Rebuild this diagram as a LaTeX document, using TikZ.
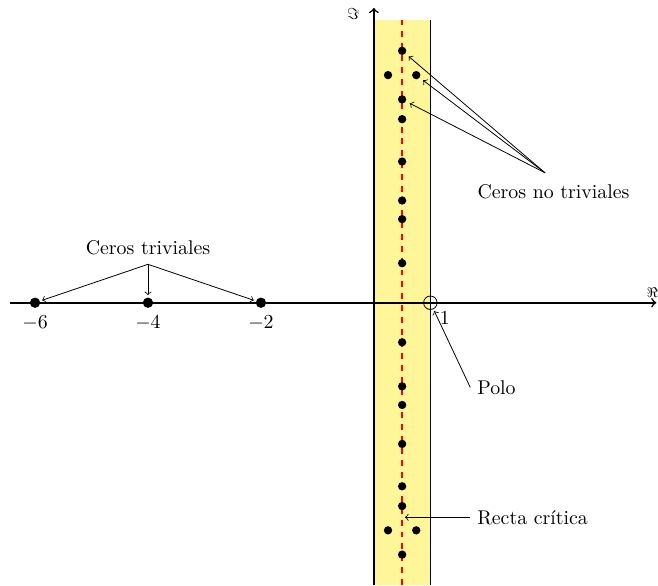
\documentclass[tikz,border=0pt]{standalone}
\usepackage{tikz}
\usetikzlibrary{arrows,calc,positioning}
\definecolor{franja}{RGB}{255,245,153}

\begin{document}
\begin{tikzpicture}[baseline,scale = 1]

    \tikzset{
      cero/.style={
        circle,
        fill,
        inner sep=0pt,
        minimum size=4.2pt,
      },
      cerotriv/.style={
        cero,
        minimum size=5.2pt,
      },
      polo/.style={
        circle,
        draw,
        inner sep=0pt,
        minimum size=6.8pt,
      },
      flecha/.style={->,thin},
    }
    \useasboundingbox (-6.62,-5.01) rectangle (5.03,5.36);
    % franja critica
    \fill[color={franja}] (0,-5) rectangle (1,5);
    \draw[color={black}] (1,-5)--(1,5);
    \draw[color={red},thick,dashed] (0.5,-5)--(0.5,5);
    % ejes
    \draw[thick,->] (-6.45,0)--(5,0) node[above,inner sep=2pt,xshift=-2pt] (re) {\scriptsize$\Re$};
    \draw[thick,->] (0,-5)--(0,5.22) node[left,inner sep=7pt,yshift=-3pt] (im) {\footnotesize$\Im$};
	% ceros triviales
	\node[cerotriv] (t6) at (-6,0) {};
	\node[cerotriv] (t4) at (-4,0) {};
	\node[cerotriv] (t2) at (-2,0) {};
	\node[below] at (t6.south) {$-6$};
	\node[below] at (t4.south) {$-4$};
	\node[below] at (t2.south) {$-2$};
	% polo
	\node[polo,label={[inner sep=2pt]below right:$1$}] (p1) at (1,0) {};
	% ceros no triviales
	\node[cero] (za1) at (0.5,0.70) {};
	\node[cero] (za2) at (0.5,1.48) {};
	\node[cero] (za3) at (0.5,1.81) {};
	\node[cero] (za4) at (0.5,2.50) {};
	\node[cero] (za5) at (0.5,3.25) {};
	\node[cero] (za6) at (0.5,3.60) {};
	\node[cero] (zai) at (0.25,4.03) {};
	\node[cero] (zad) at (0.75,4.03) {};
	\node[cero] (za7) at (0.5,4.46) {};
	\node[cero] (zb1) at (0.5,-0.70) {};
	\node[cero] (zb2) at (0.5,-1.48) {};
	\node[cero] (zb3) at (0.5,-1.81) {};
	\node[cero] (zb4) at (0.5,-2.50) {};
	\node[cero] (zb5) at (0.5,-3.25) {};
	\node[cero] (zb6) at (0.5,-3.60) {};
	\node[cero] (zbi) at (0.25,-4.03) {};
	\node[cero] (zbd) at (0.75,-4.03) {};
	\node[cero] (zb7) at (0.5,-4.46) {};
	% textos
	\node (triv) at (-4,0.97) {Ceros triviales};
	\coordinate (tv) at (-4,0.68);
	\node (notriv) at (3.18,1.97) {Ceros no triviales};
	\coordinate (nt) at (3.03,2.30);
	\node (polotxt) at (2.17,-1.5) {Polo};
	\node (recta) at (2.81,-3.8) {Recta crítica};
	\coordinate (rc) at (0.55,-3.8);
	% flechas
	\draw[flecha,shorten >=1pt] (tv)--(t6);
	\draw[flecha,shorten >=1pt] (tv)--(t4);
	\draw[flecha,shorten >=1pt] (tv)--(t2);
	\draw[flecha,shorten >=2pt] (nt)--(za7);
	\draw[flecha,shorten >=2pt] (nt)--(zad);
	\draw[flecha,shorten >=2pt] (nt)--(za6);
	\draw[flecha,shorten >=1pt] (polotxt.west)--(p1);
	\draw[flecha] (recta.west)--(rc);

\end{tikzpicture}
\end{document}
